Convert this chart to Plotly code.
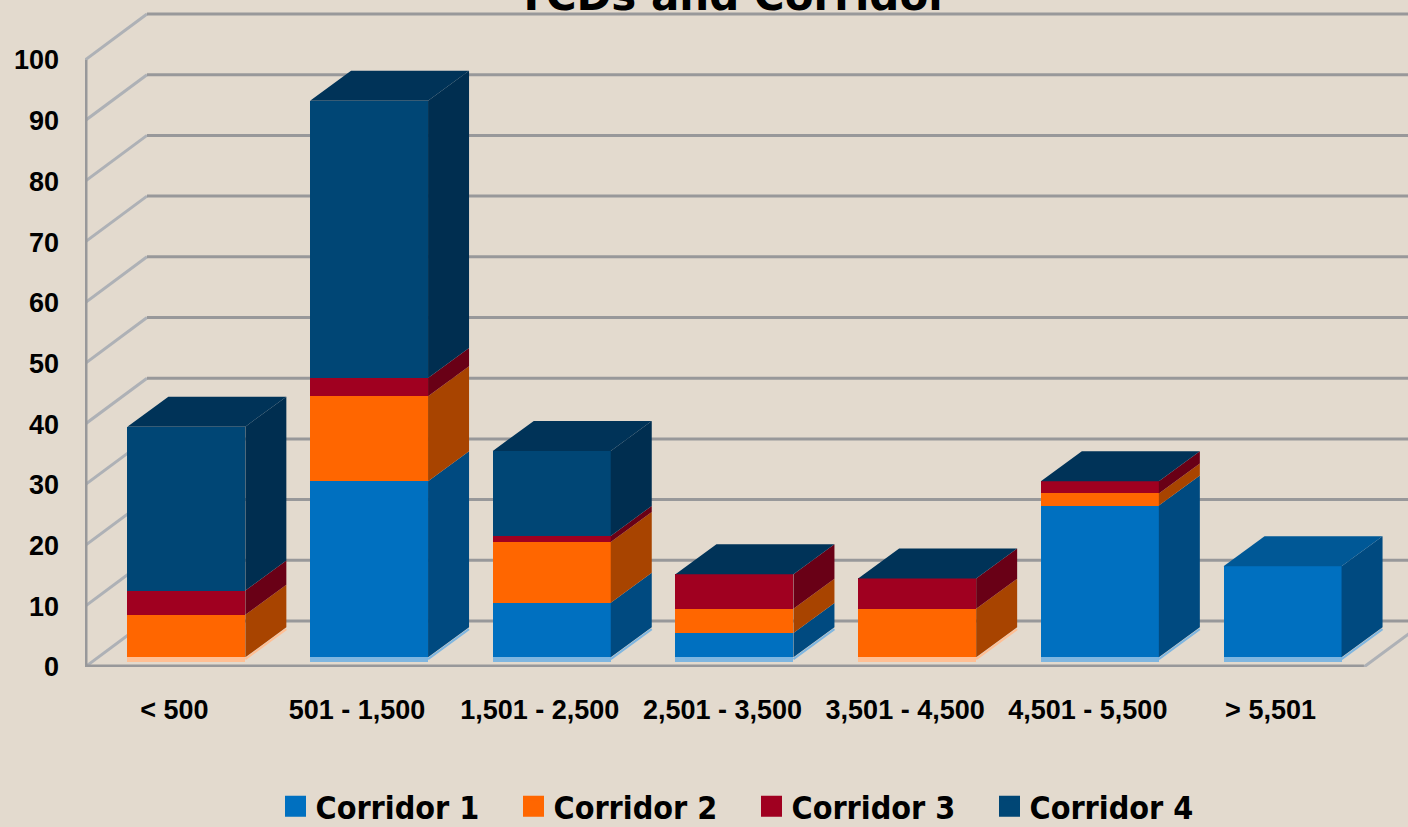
import plotly.graph_objects as go

categories = ['< 500', '501 - 1,500', '1,501 - 2,500', '2,501 - 3,500',
              '3,501 - 4,500', '4,501 - 5,500', '> 5,501']
corridor_1 = [0, 29, 9, 4, 0, 25, 15]
corridor_2 = [7, 14, 10, 4, 8, 2, 0]
corridor_3 = [4, 3, 1, 5.7, 5, 2, 0]
corridor_4 = [27, 45.7, 14, 0, 0, 0, 0]
y_ticks = list(range(0, 101, 10))

names = ['Corridor 1', 'Corridor 2', 'Corridor 3', 'Corridor 4']
series = [corridor_1, corridor_2, corridor_3, corridor_4]
front = ['#0070c0', '#ff6600', '#a00020', '#004675']
side = ['#004a80', '#a84400', '#690016', '#002e50']
top = ['#005896', '#c45000', '#7c0018', '#003358']
floor_tint = ['#7fb6e0', '#ffbf94']

W, H = 1408, 827
PX_X, PX_Y = 182.7, 6.07      # pixels per category / per value
AXIS_L, AXIS_B = 85, 667
BG = '#e3dace'
GRID = '#98989a'
WALL = '#aeb1b6'

# 3D offsets, in axis units
WALL_DX, WALL_DY = 62 / PX_X, 46 / PX_Y
BAR_DX, BAR_DY = 41 / PX_X, 30 / PX_Y
BAR_SHIFT, BAR_BASE = 10 / PX_X, 1.6
BAR_W = 118 / PX_X
x_lo, x_hi = -0.5, -0.5 + (W - AXIS_L) / PX_X
y_hi = AXIS_B / PX_Y
n = len(categories)
bar_x = [i + BAR_SHIFT for i in range(n)]

fig = go.Figure()

# back wall and left wall gridlines go under the bars
for t in y_ticks:
    fig.add_shape(type='line', layer='below', x0=x_lo, y0=t, x1=x_lo + WALL_DX, y1=t + WALL_DY,
                  line=dict(color=WALL, width=3))
    fig.add_shape(type='line', layer='below', x0=x_lo + WALL_DX, y0=t + WALL_DY, x1=x_hi, y1=t + WALL_DY,
                  line=dict(color=GRID, width=3))
# floor edges and value axis
fig.add_shape(type='line', layer='below', x0=6.5, y0=0, x1=6.5 + WALL_DX, y1=WALL_DY,
              line=dict(color=WALL, width=3))
fig.add_shape(type='line', layer='below', x0=x_lo, y0=0, x1=6.5, y1=0,
              line=dict(color=GRID, width=5))
fig.add_shape(type='line', layer='below', x0=x_lo, y0=0, x1=x_lo, y1=100,
              line=dict(color=GRID, width=5))

# light strip under each bar, tinted by its lowest series
strip = [floor_tint[0] if corridor_1[i] > 0 else floor_tint[1] for i in range(n)]
fig.add_trace(go.Bar(x=bar_x, y=[0.7] * n, base=[BAR_BASE - 0.7] * n, width=BAR_W,
                     marker=dict(color=strip, line_width=0), showlegend=False, hoverinfo='skip'))
for tint in floor_tint:
    ex, ey = [], []
    for i in range(n):
        if strip[i] == tint:
            r = bar_x[i] + BAR_W / 2
            ex += [r, r + BAR_DX, None]
            ey += [BAR_BASE - 0.3, BAR_BASE + BAR_DY - 0.3, None]
    fig.add_trace(go.Scatter(x=ex, y=ey, mode='lines', line=dict(color=tint, width=2),
                             showlegend=False, hoverinfo='skip'))

# front and side faces
bases = [BAR_BASE] * n
for k, vals in enumerate(series):
    fig.add_trace(go.Bar(x=bar_x, y=vals, base=bases[:], width=BAR_W,
                         marker=dict(color=front[k], line_width=0),
                         showlegend=False, name=names[k]))
    sx, sy = [], []
    for i, v in enumerate(vals):
        if v == 0:
            continue
        r = bar_x[i] + BAR_W / 2
        b = bases[i]
        sx += [r, r + BAR_DX, r + BAR_DX, r, r, None]
        sy += [b, b + BAR_DY, b + v + BAR_DY, b + v, b, None]
    fig.add_trace(go.Scatter(x=sx, y=sy, mode='lines', fill='toself', fillcolor=side[k],
                             line=dict(width=0), showlegend=False, hoverinfo='skip'))
    bases = [b + v for b, v in zip(bases, vals)]

# top faces: dark blue on every bar except the last, which only has Corridor 1
for k, idx in ((3, range(n - 1)), (0, [n - 1])):
    tx, ty = [], []
    for i in idx:
        l = bar_x[i] - BAR_W / 2
        tx += [l, l + BAR_DX, l + BAR_W + BAR_DX, l + BAR_W, l, None]
        ty += [bases[i], bases[i] + BAR_DY, bases[i] + BAR_DY, bases[i], bases[i], None]
    fig.add_trace(go.Scatter(x=tx, y=ty, mode='lines', fill='toself', fillcolor=top[k],
                             line=dict(width=0), showlegend=False, hoverinfo='skip'))

# legend keys, legend markers stop growing at 16 so the outline makes up the rest
for k, name in enumerate(names):
    fig.add_trace(go.Scatter(x=[None], y=[None], mode='markers', name=name,
                             marker=dict(symbol='square', size=16, color=front[k],
                                         line=dict(color=front[k], width=6))))

fig.update_layout(
    width=W, height=H,
    autosize=False,
    paper_bgcolor=BG, plot_bgcolor='rgba(0,0,0,0)',
    barmode='overlay', bargap=0,
    margin=dict(l=AXIS_L, r=0, t=0, b=H - AXIS_B, pad=0),
    font=dict(family='Liberation Sans', color='#000000'),
    title=dict(text='<b>TCDs and Corridor</b>', x=733 / W, xanchor='center',
               y=1.0, yanchor='bottom', yref='container', pad=dict(b=-10),
               font=dict(size=42, family='DejaVu Sans')),
    legend=dict(orientation='h', x=0.144, xanchor='left', y=0.058, yref='container',
                yanchor='top', itemsizing='trace', entrywidth=193, entrywidthmode='pixels',
                bgcolor='rgba(0,0,0,0)',
                font=dict(size=32, family='DejaVu Sans Condensed', weight='bold')),
    showlegend=True,
)
fig.update_xaxes(range=[x_lo, x_hi], tickmode='array', tickvals=[i - 0.011 for i in range(n)],
                 ticktext=categories, showgrid=False, zeroline=False, showline=False,
                 ticks='', ticklabelstandoff=24,
                 tickfont=dict(size=27, family='Liberation Sans', weight='bold'))
fig.update_yaxes(range=[0, y_hi], tickmode='array', tickvals=y_ticks,
                 showgrid=False, zeroline=False, showline=False,
                 ticks='', ticklabelstandoff=25,
                 tickfont=dict(size=27, family='Liberation Sans', weight='bold'))

fig.write_html('out.html', config={'displayModeBar': False},
               post_script="document.body.style.margin='0';document.body.style.overflow='hidden';")
